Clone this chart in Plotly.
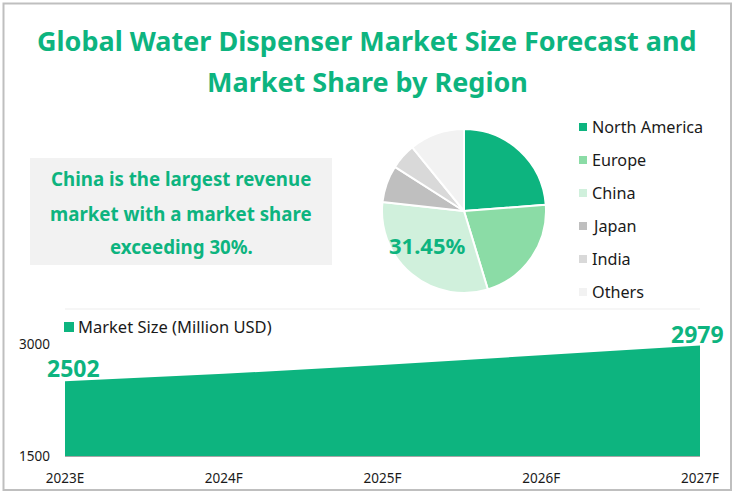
import plotly.graph_objects as go

W, H = 735, 496
GREEN = "#0DB47F"
FONT = "Noto Sans"

# pie data
regions = ["North America", "Europe", "China", "Japan", "India", "Others"]
shares = [23.8, 21.5, 31.45, 7.3, 5.1, 10.85]
region_colors = ["#0DB47F", "#8BDCA6", "#D0F0DC", "#BFBFBF", "#D9D9D9", "#F2F2F2"]

# area data
years = ["2023E", "2024F", "2025F", "2026F", "2027F"]
market_size = [2502, 2600, 2720, 2845, 2979]

title_lines = ["Global Water Dispenser Market Size Forecast and", "Market Share by Region"]
note_lines = ["China is the largest revenue", "market with a market share", "exceeding 30%."]


def px(x):
    return x / W


def py(y):
    return 1 - y / H


def text(x, y, s, size, color=GREEN, bold=True, anchor="center"):
    fig.add_annotation(x=px(x), y=py(y), xref="paper", yref="paper", text=f"<b>{s}</b>" if bold else s,
                       showarrow=False, xanchor=anchor, yanchor="middle",
                       font=dict(family=FONT, size=size, color=color))


def rect(x0, y0, x1, y1, fill, line=None, width=0):
    fig.add_shape(type="rect", xref="paper", yref="paper", x0=px(x0), x1=px(x1), y0=py(y0), y1=py(y1),
                  fillcolor=fill, line=dict(color=line, width=width), layer="below")


fig = go.Figure()

fig.add_trace(go.Scatter(x=years, y=market_size, mode="lines", fill="tozeroy", fillcolor=GREEN,
                         line=dict(color=GREEN, width=0), showlegend=False, hoverinfo="x+y"))

fig.add_trace(go.Pie(labels=regions, values=shares, sort=False, direction="clockwise", rotation=0,
                     marker=dict(colors=region_colors, line=dict(color="white", width=2)),
                     textinfo="none", showlegend=False,
                     domain=dict(x=[px(382), px(546)], y=[py(293), py(129)])))

fig.update_layout(
    width=W, height=H, autosize=False, margin=dict(l=0, r=0, t=0, b=0),
    paper_bgcolor="white", plot_bgcolor="rgba(0,0,0,0)", showlegend=False,
    font=dict(family=FONT, color="#1a1a1a"),
    xaxis=dict(domain=[px(65), px(700)], type="category", range=[0, 4], showgrid=False, automargin=False,
               showline=True, linecolor="#A6A6A6", linewidth=1, ticks="", tickfont=dict(size=13.5),
               ticklabelstandoff=10),
    yaxis=dict(domain=[py(456), py(344)], range=[1500, 3000], tickvals=[1500, 3000], showline=False,
               automargin=False, showgrid=True, gridcolor="#D9D9D9", gridwidth=1, zeroline=False, ticks="",
               tickfont=dict(size=13.5), ticklabelstandoff=14),
)

# outer frame and note box
rect(3.5, 3.5, 731, 490, "white", "#BFBFBF", 2)
rect(30, 158, 332, 265, "#F2F2F2")
fig.add_shape(type="line", xref="paper", yref="paper", x0=px(65), x1=px(700), y0=py(309), y1=py(309),
              line=dict(color="#EDEDED", width=1), layer="below")

for y, s in zip([41, 81], title_lines):
    text(367, y, s, 27)
for y, s in zip([179, 213, 246], note_lines):
    text(181, y, s, 18.7)
text(427, 245, "31.45%", 22)

# pie legend
for i, (name, color) in enumerate(zip(regions, region_colors)):
    y = 127 + 33 * i
    rect(579, y - 4, 587, y + 4, color)
    text(590, y, name, 16.2, color="#1a1a1a", bold=False, anchor="left")

# area legend
rect(64, 322, 74, 332, GREEN)
text(76, 326, "Market Size (Million USD)", 16.5, color="#1a1a1a", bold=False, anchor="left")

# first and last data labels
for idx, xshift, yshift in [(0, 8, 13), (4, -3, 12)]:
    fig.add_annotation(x=years[idx], y=market_size[idx], xref="x", yref="y", text=f"<b>{market_size[idx]}</b>",
                       showarrow=False, xshift=xshift, yshift=yshift,
                       font=dict(family=FONT, size=23, color=GREEN))

fig.write_html("out.html", post_script="document.body.style.margin='0';",
               config=dict(displayModeBar=False))
